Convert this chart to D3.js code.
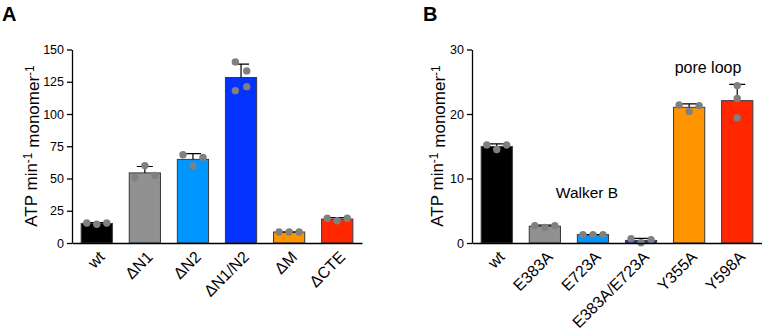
<!DOCTYPE html>
<meta charset="utf-8">
<style>
body { margin: 0; background: #fff; }
svg { display: block; font-family: "Liberation Sans", Arial, sans-serif; }
.axis path, .axis line { stroke: #000; stroke-width: 1.3px; }
.axis text { font-size: 12.5px; fill: #000; }
.bar { stroke: #3a3a3a; stroke-width: 1px; }
.err { stroke: #000; stroke-width: 1.2px; fill: none; }
.dot { fill: #808080; }
</style>
<svg width="762" height="330"></svg>
<script src="https://d3js.org/d3.v7.min.js"></script>
<script>

// panel A - deletion constructs
var catsA = ["wt", "\u0394N1", "\u0394N2", "\u0394N1/N2", "\u0394M", "\u0394CTE"];
var repsA = [[15.5, 14.5, 15.5], [50.7, 60, 52.3], [68.4, 59.8, 66.3],
             [140.4, 133.4, 118.1, 121.2], [8.5, 8.5, 8.5], [19.2, 17.3, 19.2]];
var ticksA = [0, 25, 50, 75, 100, 125, 150];

// panel B - point mutants
var catsB = ["wt", "E383A", "E723A", "E383A/E723A", "Y355A", "Y598A"];
var repsB = [[15.2, 14.5, 15.2], [2.7, 2.4, 2.7], [1.3, 1.3, 1.3],
             [0.65, 0.05, 0.5], [21.4, 20.4, 21.3], [24.4, 22.4, 19.4]];
var ticksB = [0, 10, 20, 30];

var colors = ["#000000", "#919191", "#0096ff", "#0433ff", "#ff9300", "#ff2600"];

var svg = d3.select("svg");

function panel(cats, reps, ticks, x0, x1, letter, lx, titleGap) {
  var g = svg.append("g");
  var x = d3.scaleBand().domain(cats).range([x0, x1]).paddingInner(0.33).paddingOuter(0.18);
  var y = d3.scaleLinear().domain([0, ticks[ticks.length - 1]]).range([243, 49.5]);

  var rows = cats.map(function(c, i) {
    var v = reps[i];
    return {cat: c, vals: v, mean: d3.mean(v), sd: d3.deviation(v), col: colors[i]};
  });

  g.selectAll(".bar").data(rows).enter().append("rect")
    .attr("class", "bar")
    .attr("x", function(d) { return x(d.cat) + 0.5; })
    .attr("width", x.bandwidth() - 1)
    .attr("y", function(d) { return y(d.mean); })
    .attr("height", function(d) { return y(0) - y(d.mean); })
    .attr("fill", function(d) { return d.col; });

  // upper error bar only (mean + SD)
  rows.forEach(function(d) {
    var cx = x(d.cat) + x.bandwidth() / 2;
    g.append("path").attr("class", "err")
      .attr("d", "M" + cx + "," + y(d.mean) + "V" + y(d.mean + d.sd) +
                 "M" + (cx - 8) + "," + y(d.mean + d.sd) + "H" + (cx + 8));
  });

  // replicate points; spread sideways only if some overlap
  rows.forEach(function(d) {
    var cx = x(d.cat) + x.bandwidth() / 2;
    var n = d.vals.length, clash = false;
    for (var a = 0; a < n; a++)
      for (var b = a + 1; b < n; b++)
        if (Math.abs(y(d.vals[a]) - y(d.vals[b])) < 7.5) clash = true;
    g.selectAll(null).data(d.vals).enter().append("circle")
      .attr("class", "dot")
      .attr("r", 3.7)
      .attr("cx", function(v, i) {
        if (!clash) return cx;
        if (n === 4) return cx + (i % 2 ? 5.7 : -5.7);
        return cx + (i - (n - 1) / 2) * 10;
      })
      .attr("cy", function(v) { return y(v); });
  });

  g.append("g").attr("class", "axis")
    .attr("transform", "translate(" + x0 + ",0)")
    .call(d3.axisLeft(y).tickValues(ticks).tickSize(5).tickPadding(3).tickSizeOuter(0));

  var xa = g.append("g").attr("class", "axis")
    .attr("transform", "translate(0," + y(0) + ")")
    .call(d3.axisBottom(x).tickSize(0).tickSizeOuter(0));
  xa.selectAll("text")
    .style("font-size", "16px")
    .attr("text-anchor", "end")
    .attr("y", 0)
    .attr("dy", "0.35em")
    .attr("transform", "translate(5,11) rotate(-45)");

  var t = g.append("text")
    .attr("transform", "translate(" + (x0 - titleGap) + ",146) rotate(-90)")
    .attr("text-anchor", "middle")
    .style("font-size", "17px");
  t.append("tspan").text("ATP min");
  t.append("tspan").attr("dy", "-0.45em").style("font-size", "12px").text("-1");
  t.append("tspan").attr("dy", "0.45em").text(" monomer");
  t.append("tspan").attr("dy", "-0.45em").style("font-size", "12px").text("-1");

  svg.append("text").attr("x", lx).attr("y", 21)
    .style("font-size", "20px").style("font-weight", "bold").text(letter);
  return {x: x, y: y, g: g};
}

panel(catsA, repsA, ticksA, 72, 362, "A", 2, 35);
var pb = panel(catsB, repsB, ticksB, 472, 762, "B", 423, 29);

pb.g.append("text").attr("x", 587).attr("y", 198).attr("text-anchor", "middle")
  .style("font-size", "15.5px").text("Walker B");
pb.g.append("text").attr("x", 708).attr("y", 73).attr("text-anchor", "middle")
  .style("font-size", "16px").text("pore loop");
</script>
